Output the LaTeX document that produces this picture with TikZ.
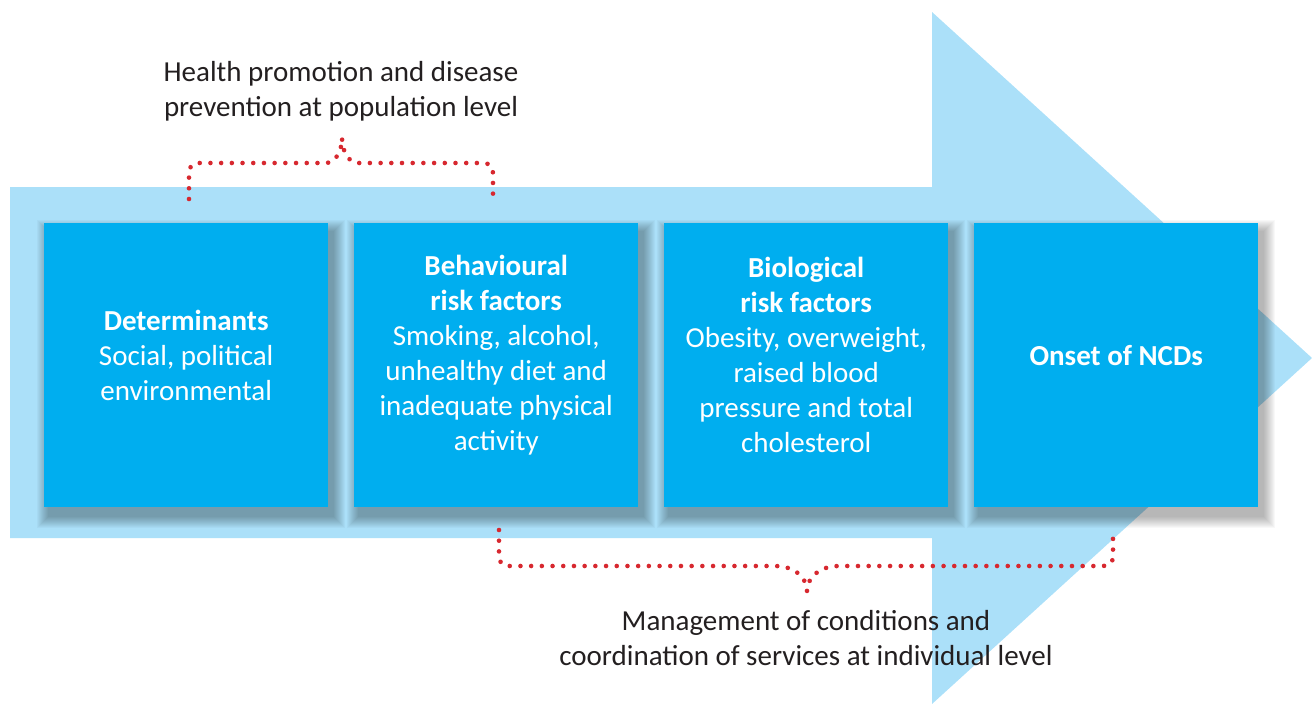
\documentclass[tikz,border=0pt]{standalone}
\usepackage{fontspec}
\setmainfont{Carlito}
\definecolor{boxblue}{HTML}{00AEEF}
\definecolor{arrowblue}{HTML}{ABE0F9}
\definecolor{dotred}{HTML}{D7282F}
\definecolor{txtgray}{HTML}{231F20}
\pgfdeclarelayer{bglayer}
\pgfdeclarelayer{shadelayer}
\pgfsetlayers{bglayer,shadelayer,main}
\tikzset{
  stagebox/.style={fill=boxblue, draw=none, minimum width=284pt, minimum height=284pt, anchor=north west},
  shadestep/.style={fill=black, fill opacity=0.028, draw=none},
  boxtext/.style={text=white, align=center, font=\fontsize{29}{35}\selectfont},
  labeltext/.style={text=txtgray, align=center, font=\fontsize{29}{35}\selectfont},
  dotline/.style={draw=dotred, line width=4.6pt, line cap=round, dash pattern=on 0pt off 10.7pt}
}
\begin{document}
\begin{tikzpicture}[x=1pt,y=-1pt]
\useasboundingbox (0,0) rectangle (1312,704);
% big arrow
\begin{pgfonlayer}{bglayer}
\fill[arrowblue] (10,187) -- (932,187) -- (932,12) -- (1312,358) -- (932,704) -- (932,538) -- (10,538) -- cycle;
\end{pgfonlayer}
% boxes
\node[stagebox] (b1) at (44,223) {};
\node[stagebox] (b2) at (354,223) {};
\node[stagebox] (b3) at (664,223) {};
\node[stagebox] (b4) at (974,223) {};
% soft shadows
\begin{pgfonlayer}{shadelayer}
\foreach \b in {b1,b2,b3,b4}{
  \foreach \i in {0,...,11}{
    \fill[shadestep] ([xshift=5pt-12pt+\i pt, yshift=-9pt+12pt-\i pt]\b.north west)
      rectangle ([xshift=5pt+12pt-\i pt, yshift=-9pt-12pt+\i pt]\b.south east);
  }
}
\end{pgfonlayer}
\node[boxtext] (t1) at ([yshift=10pt]b1.center) {\textbf{Determinants}\\Social, political\\environmental};
\node[boxtext] (t2) at ([yshift=10pt]b2.center) {\textbf{Behavioural}\\\textbf{risk factors}\\Smoking, alcohol,\\unhealthy diet and\\inadequate physical\\activity};
\node[boxtext] (t3) at ([yshift=10pt]b3.center) {\textbf{Biological}\\\textbf{risk factors}\\Obesity, overweight,\\raised blood\\pressure and total\\cholesterol};
\node[boxtext] (t4) at ([yshift=10pt]b4.center) {\textbf{Onset of NCDs}};
% labels
\node[labeltext] (top) at (341,91) {Health promotion and disease\\prevention at population level};
\node[labeltext] (bot) at (806,638) {Management of conditions and\\coordination of services at individual level};
% braces
\coordinate (tl) at (189,199);
\coordinate (tr) at (493,199);
\coordinate (tp) at (342,138);
\draw[dotline] (tl) -- (189,173) .. controls (189,166) and (193,163) .. (199,163) -- (326,163)
  .. controls (336,163) and (342,150) .. (tp) .. controls (342,150) and (348,163) .. (358,163)
  -- (483,163) .. controls (489,163) and (493,166) .. (493,173) -- (tr);
\coordinate (bl) at (499,530);
\coordinate (br) at (1113,530);
\coordinate (bp) at (807,591);
\draw[dotline] (bl) -- (499,556) .. controls (499,563) and (503,566) .. (509,566) -- (775,566)
  .. controls (795,566) and (807,578) .. (bp) .. controls (807,578) and (819,566) .. (839,566)
  -- (1103,566) .. controls (1109,566) and (1113,563) .. (1113,556) -- (br);
\end{tikzpicture}
\end{document}
